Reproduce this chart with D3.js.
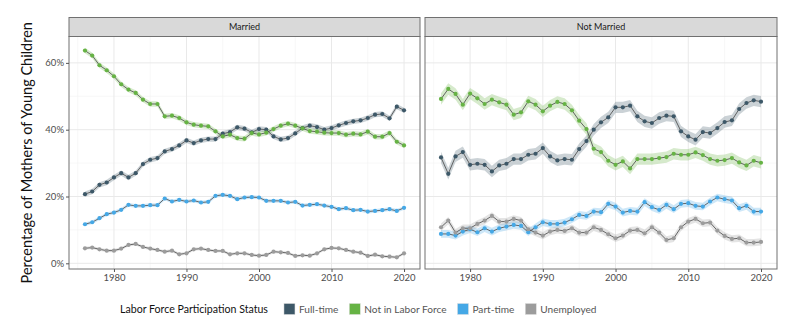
<!DOCTYPE html>
<html>
<head>
<meta charset="utf-8">
<script src="https://cdn.jsdelivr.net/npm/d3@7"></script>
<style>
  body { margin: 0; background: #fff; }
  svg text { font-family: Lato, "Open Sans", sans-serif; }
</style>
</head>
<body>
<div id="chart"></div>
<script>
// survey years, one point per year
const years = d3.range(1976, 2021);

const panels = ["Married", "Not Married"];
const statuses = ["Full-time", "Not in Labor Force", "Part-time", "Unemployed"];
const statusColors = ["#3d5868", "#66b344", "#45a8e6", "#9c9c9c"];

// percentages, 1976..2020
const marriedFullTime = [20.7, 21.5, 23.5, 24.2, 25.7, 27.0, 25.7, 27.0, 29.7, 31.0, 31.5, 33.5, 34.2, 35.3, 36.8,
  36.0, 36.8, 37.2, 37.2, 38.8, 39.3, 40.7, 40.3, 39.2, 40.2, 40.0, 38.0, 37.1, 37.5, 38.9,
  40.5, 41.2, 40.8, 40.0, 40.5, 41.3, 42.0, 42.5, 42.8, 43.5, 44.5, 44.7, 43.4, 46.9, 45.8];
const marriedNotInLF = [63.7, 62.2, 59.3, 57.8, 56.0, 53.6, 52.0, 51.0, 49.0, 47.7, 47.7, 44.0, 44.2, 43.5, 42.2,
  41.5, 41.2, 41.0, 39.5, 38.0, 38.5, 37.5, 37.3, 39.0, 38.6, 39.1, 40.2, 41.2, 41.8, 41.2,
  40.4, 39.6, 39.4, 39.1, 39.0, 39.0, 38.5, 38.8, 38.6, 39.4, 37.9, 37.9, 39.0, 36.4, 35.3];
const marriedPartTime = [11.7, 12.3, 13.5, 14.7, 15.2, 16.0, 17.5, 17.2, 17.2, 17.4, 17.4, 19.4, 18.5, 19.0, 18.5,
  18.8, 18.2, 18.4, 20.2, 20.5, 20.2, 19.2, 19.7, 19.8, 19.7, 18.7, 18.7, 18.7, 18.2, 18.4,
  17.3, 17.5, 17.7, 17.3, 16.9, 16.2, 16.5, 15.9, 16.0, 15.5, 15.7, 15.9, 16.2, 15.7, 16.6];
const marriedUnemployed = [4.5, 4.7, 4.2, 3.8, 3.8, 4.4, 5.5, 5.8, 4.9, 4.4, 4.0, 3.5, 3.8, 2.7, 3.0,
  4.2, 4.4, 4.0, 3.7, 3.7, 2.7, 3.0, 3.0, 2.5, 2.3, 2.5, 3.5, 3.3, 3.1, 2.2,
  2.4, 2.3, 3.0, 4.2, 4.6, 4.5, 4.0, 3.5, 3.2, 2.2, 2.6, 2.1, 2.0, 1.8, 3.0];

const notMarriedFullTime = [31.7, 26.8, 32.0, 33.3, 29.5, 29.8, 29.5, 27.5, 29.3, 29.8, 31.2, 31.2, 32.5, 32.8, 34.5,
  32.0, 30.8, 31.2, 31.0, 34.2, 36.6, 40.0, 42.2, 43.7, 46.7, 46.7, 47.2, 44.0, 42.5, 42.0,
  43.5, 44.2, 44.0, 39.5, 38.0, 37.0, 39.3, 39.0, 40.5, 42.3, 42.8, 46.2, 48.0, 48.8, 48.4];
const notMarriedNotInLF = [49.2, 52.2, 50.7, 47.5, 50.8, 49.4, 47.7, 49.0, 48.2, 47.5, 44.5, 45.2, 48.5, 47.5, 45.5,
  47.2, 48.3, 47.7, 45.8, 42.7, 40.2, 34.3, 33.3, 30.7, 29.5, 30.5, 28.4, 31.2, 31.2, 31.2,
  31.5, 31.8, 32.8, 32.5, 32.5, 33.2, 32.4, 31.2, 30.7, 30.9, 31.5, 30.2, 29.3, 30.7, 30.1];
const notMarriedPartTime = [8.8, 8.8, 8.3, 9.5, 10.2, 9.3, 10.5, 9.5, 10.5, 11.0, 11.5, 11.2, 9.3, 10.8, 12.3,
  11.8, 11.8, 12.2, 13.2, 14.5, 14.2, 15.5, 15.3, 17.8, 17.0, 15.2, 15.7, 15.5, 18.3, 16.8,
  16.0, 17.5, 16.2, 17.8, 18.0, 17.2, 17.0, 18.5, 19.7, 19.2, 18.8, 16.5, 17.2, 15.5, 15.5];
const notMarriedUnemployed = [10.8, 12.8, 9.2, 10.5, 10.5, 11.8, 12.8, 14.2, 12.5, 12.5, 13.3, 12.8, 10.2, 9.2, 8.3,
  9.5, 10.0, 9.7, 10.5, 9.2, 9.2, 10.8, 10.0, 8.7, 7.5, 8.3, 9.8, 10.0, 9.0, 10.8,
  9.2, 7.0, 7.5, 10.8, 12.5, 13.3, 12.0, 12.2, 9.8, 8.2, 7.3, 7.5, 6.2, 6.2, 6.4];

// half-width of the confidence ribbon, per status
const marriedBand = [0.8, 0.8, 0.55, 0.45];
const notMarriedBand = [1.7, 1.7, 1.15, 1.1];

const yTicks = [0, 20, 40, 60];
const yMinor = [10, 30, 50];
const xTicks = [1980, 1990, 2000, 2010, 2020];
const xMinor = [1975, 1985, 1995, 2005, 2015];

const panelData = [
  { name: panels[0], series: [marriedFullTime, marriedNotInLF, marriedPartTime, marriedUnemployed], band: marriedBand },
  { name: panels[1], series: [notMarriedFullTime, notMarriedNotInLF, notMarriedPartTime, notMarriedUnemployed], band: notMarriedBand }
];

const width = 800, height = 329;
const panelX = [[69, 420], [425, 777]];
const stripTop = 17.5, panelTop = 36.5, panelBottom = 269;

const svg = d3.select("#chart").append("svg")
  .attr("width", width)
  .attr("height", height);

const y = d3.scaleLinear().domain([-1.7, 67.9]).range([panelBottom, panelTop]);

panelData.forEach((p, i) => {
  const [x0, x1] = panelX[i];
  const x = d3.scaleLinear().domain([1973.8, 2022.2]).range([x0, x1]);
  const g = svg.append("g").attr("class", "panel");

  g.append("rect")
    .attr("x", x0).attr("y", panelTop)
    .attr("width", x1 - x0).attr("height", panelBottom - panelTop)
    .attr("fill", "#fff");

  // grid
  g.selectAll(".vminor").data(xMinor).join("line")
    .attr("x1", d => x(d)).attr("x2", d => x(d))
    .attr("y1", panelTop).attr("y2", panelBottom)
    .attr("stroke", "#f2f2f2").attr("stroke-width", 0.6);
  g.selectAll(".hminor").data(yMinor).join("line")
    .attr("x1", x0).attr("x2", x1)
    .attr("y1", d => y(d)).attr("y2", d => y(d))
    .attr("stroke", "#f2f2f2").attr("stroke-width", 0.6);
  g.selectAll(".vmajor").data(xTicks).join("line")
    .attr("x1", d => x(d)).attr("x2", d => x(d))
    .attr("y1", panelTop).attr("y2", panelBottom)
    .attr("stroke", "#e9e9e9").attr("stroke-width", 1);
  g.selectAll(".hmajor").data(yTicks).join("line")
    .attr("x1", x0).attr("x2", x1)
    .attr("y1", d => y(d)).attr("y2", d => y(d))
    .attr("stroke", "#e9e9e9").attr("stroke-width", 1);

  const rows = p.series.map((vals, s) => vals.map((v, k) => ({ year: years[k], value: v, se: p.band[s] })));

  const area = d3.area()
    .x(d => x(d.year))
    .y0(d => y(d.value - d.se))
    .y1(d => y(d.value + d.se));
  const line = d3.line()
    .x(d => x(d.year))
    .y(d => y(d.value));

  g.selectAll(".ribbon").data(rows).join("path")
    .attr("class", "ribbon")
    .attr("d", area)
    .attr("fill", (d, s) => statusColors[s])
    .attr("fill-opacity", 0.27);

  g.selectAll(".trend").data(rows).join("path")
    .attr("class", "trend")
    .attr("d", line)
    .attr("fill", "none")
    .attr("stroke", "#4d4d4d")
    .attr("stroke-width", 0.85);

  rows.forEach((r, s) => {
    g.append("g").selectAll("circle").data(r).join("circle")
      .attr("cx", d => x(d.year))
      .attr("cy", d => y(d.value))
      .attr("r", 2.1)
      .attr("fill", statusColors[s]);
  });

  // panel border and strip
  g.append("rect")
    .attr("x", x0).attr("y", panelTop)
    .attr("width", x1 - x0).attr("height", panelBottom - panelTop)
    .attr("fill", "none").attr("stroke", "#707070").attr("stroke-width", 1);
  g.append("rect")
    .attr("x", x0).attr("y", stripTop)
    .attr("width", x1 - x0).attr("height", panelTop - stripTop)
    .attr("fill", "#d9d9d9").attr("stroke", "#707070").attr("stroke-width", 1);
  g.append("text")
    .attr("x", (x0 + x1) / 2).attr("y", (stripTop + panelTop) / 2)
    .attr("dy", "0.35em")
    .attr("text-anchor", "middle")
    .attr("font-size", 9)
    .attr("fill", "#1a1a1a")
    .text(p.name);

  // x axis
  const xAxis = g.append("g")
    .attr("transform", `translate(0,${panelBottom})`)
    .call(d3.axisBottom(x).tickValues(xTicks).tickFormat(d3.format("d")).tickSize(3).tickPadding(2));
  xAxis.select(".domain").remove();
  xAxis.selectAll("line").attr("stroke", "#555");
  xAxis.selectAll("text").attr("font-size", 9.5).attr("fill", "#4d4d4d")
    .style("font-family", "Lato, 'Open Sans', sans-serif");

  if (i === 0) {
    const yAxis = g.append("g")
      .attr("transform", `translate(${x0},0)`)
      .call(d3.axisLeft(y).tickValues(yTicks).tickFormat(d => d + "%").tickSize(3).tickPadding(2));
    yAxis.select(".domain").remove();
    yAxis.selectAll("line").attr("stroke", "#555");
    yAxis.selectAll("text").attr("font-size", 9.5).attr("fill", "#4d4d4d")
      .style("font-family", "Lato, 'Open Sans', sans-serif");
  }
});

// y axis title
svg.append("text")
  .attr("transform", `translate(27,${(panelTop + panelBottom) / 2}) rotate(-90)`)
  .attr("text-anchor", "middle")
  .attr("dy", "0.35em")
  .attr("font-size", 14.5)
  .attr("fill", "#111")
  .text("Percentage of Mothers of Young Children");

// legend
const legend = svg.append("g").attr("transform", "translate(120,309)");
const legendTitle = legend.append("text")
  .attr("x", 0).attr("dy", "0.35em")
  .attr("font-size", 10.6)
  .attr("fill", "#111")
  .text("Labor Force Participation Status");

let lx = legendTitle.node().getComputedTextLength() + 16;
statuses.forEach((s, k) => {
  const item = legend.append("g").attr("transform", `translate(${lx},0)`);
  item.append("rect")
    .attr("x", 0).attr("y", -5.5)
    .attr("width", 11).attr("height", 11)
    .attr("fill", statusColors[k])
    .attr("stroke", "#e0e0e0").attr("stroke-width", 0.5);
  const t = item.append("text")
    .attr("x", 15).attr("dy", "0.35em")
    .attr("font-size", 10.1)
    .attr("fill", "#555")
    .text(s);
  lx += 15 + t.node().getComputedTextLength() + 11;
});
</script>
</body>
</html>
